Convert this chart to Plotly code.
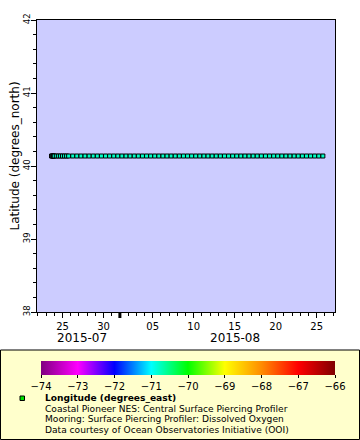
import plotly.graph_objects as go

# ---------------- data ----------------
time = [
    "2015-07-23 16:00", "2015-07-23 18:00", "2015-07-23 20:00", "2015-07-23 22:00",
    "2015-07-24 00:00",
    "2015-07-24 06:00", "2015-07-24 12:00", "2015-07-24 18:00", "2015-07-25 00:00",
    "2015-07-25 06:00", "2015-07-25 12:00", "2015-07-25 18:00",
    "2015-07-26 06:00", "2015-07-26 18:00", "2015-07-27 06:00", "2015-07-27 18:00",
    "2015-07-28 06:00", "2015-07-28 18:00", "2015-07-29 06:00", "2015-07-29 18:00",
    "2015-07-30 06:00", "2015-07-30 18:00", "2015-07-31 06:00", "2015-07-31 18:00",
    "2015-08-01 06:00", "2015-08-01 18:00", "2015-08-02 06:00", "2015-08-02 18:00",
    "2015-08-03 06:00", "2015-08-03 18:00", "2015-08-04 06:00", "2015-08-04 18:00",
    "2015-08-05 06:00", "2015-08-05 18:00", "2015-08-06 06:00", "2015-08-06 18:00",
    "2015-08-07 06:00", "2015-08-07 18:00", "2015-08-08 06:00", "2015-08-08 18:00",
    "2015-08-09 06:00", "2015-08-09 18:00", "2015-08-10 06:00", "2015-08-10 18:00",
    "2015-08-11 06:00", "2015-08-11 18:00", "2015-08-12 06:00", "2015-08-12 18:00",
    "2015-08-13 06:00", "2015-08-13 18:00", "2015-08-14 06:00", "2015-08-14 18:00",
    "2015-08-15 06:00", "2015-08-15 18:00", "2015-08-16 06:00", "2015-08-16 18:00",
    "2015-08-17 06:00", "2015-08-17 18:00", "2015-08-18 06:00", "2015-08-18 18:00",
    "2015-08-19 06:00", "2015-08-19 18:00", "2015-08-20 06:00", "2015-08-20 18:00",
    "2015-08-21 06:00", "2015-08-21 18:00", "2015-08-22 06:00", "2015-08-22 18:00",
    "2015-08-23 06:00", "2015-08-23 18:00", "2015-08-24 06:00", "2015-08-24 18:00",
    "2015-08-25 06:00", "2015-08-25 18:00",
]

latitude = [
    40.137, 40.137, 40.137, 40.137, 40.137, 40.137, 40.137, 40.137, 40.137, 40.137,
    40.137, 40.137, 40.137, 40.137, 40.137, 40.137, 40.137, 40.137, 40.137, 40.137,
    40.137, 40.137, 40.137, 40.137, 40.137, 40.137, 40.137, 40.137, 40.137, 40.137,
    40.137, 40.137, 40.137, 40.137, 40.137, 40.137, 40.137, 40.137, 40.137, 40.137,
    40.137, 40.137, 40.137, 40.137, 40.137, 40.137, 40.137, 40.137, 40.137, 40.137,
    40.137, 40.137, 40.137, 40.137, 40.137, 40.137, 40.137, 40.137, 40.137, 40.137,
    40.137, 40.137, 40.137, 40.137, 40.137, 40.137, 40.137, 40.137, 40.137, 40.137,
    40.137, 40.137, 40.137, 40.137,
]

longitude = [
    -70.78, -70.78, -70.78, -70.78, -70.78, -70.78, -70.78, -70.78, -70.78, -70.78,
    -70.78, -70.78, -70.78, -70.78, -70.78, -70.78, -70.78, -70.78, -70.78, -70.78,
    -70.78, -70.78, -70.78, -70.78, -70.78, -70.78, -70.78, -70.78, -70.78, -70.78,
    -70.78, -70.78, -70.78, -70.78, -70.78, -70.78, -70.78, -70.78, -70.78, -70.78,
    -70.78, -70.78, -70.78, -70.78, -70.78, -70.78, -70.78, -70.78, -70.78, -70.78,
    -70.78, -70.78, -70.78, -70.78, -70.78, -70.78, -70.78, -70.78, -70.78, -70.78,
    -70.78, -70.78, -70.78, -70.78, -70.78, -70.78, -70.78, -70.78, -70.78, -70.78,
    -70.78, -70.78, -70.78, -70.78,
]

x_tickvals = ["2015-07-25", "2015-07-30", "2015-08-05", "2015-08-10",
              "2015-08-15", "2015-08-20", "2015-08-25"]
x_ticktext = ["25", "30", "05", "10", "15", "20", "25"]
month_labels = ["2015-07", "2015-08"]
month_label_pos = ["2015-07-27 10:00", "2015-08-15 01:00"]
y_tickvals = [38, 39, 40, 41, 42]
cbar_tickvals = [-74, -73, -72, -71, -70, -69, -68, -67, -66]
y_title = "Latitude (degrees_north)"

legend_lines = [
    "<b>Longitude (degrees_east)</b>",
    "Coastal Pioneer NES: Central Surface Piercing Profiler",
    "Mooring: Surface Piercing Profiler: Dissolved Oxygen",
    "Data courtesy of Ocean Observatories Initiative (OOI)",
]

rainbow = [
    [0.000, "rgb(128,0,128)"],
    [0.125, "rgb(255,0,255)"],
    [0.250, "rgb(0,0,255)"],
    [0.375, "rgb(0,255,255)"],
    [0.500, "rgb(0,255,0)"],
    [0.625, "rgb(255,255,0)"],
    [0.750, "rgb(255,140,0)"],
    [0.875, "rgb(255,0,0)"],
    [1.000, "rgb(128,0,0)"],
]

# ---------------- layout geometry ----------------
W, H = 360, 440
L, R, T, B = 37, 335, 20, 312
FONT = "DejaVu Sans"


def px(xp):
    return (xp - L) / (R - L)


def py(yp):
    return (B - yp) / (B - T)


fig = go.Figure()
fig.add_trace(go.Scatter(
    x=time, y=latitude, mode="markers",
    marker=dict(
        symbol="square", size=4, color=longitude,
        colorscale=rainbow, cmin=-74, cmax=-66,
        line=dict(color="black", width=1),
        colorbar=dict(
            orientation="h", x=px(188), xanchor="center",
            y=py(361), yanchor="top", xpad=0, ypad=0,
            len=294, lenmode="pixels", thickness=14,
            outlinewidth=0, ticks="outside", ticklen=3,
            tickcolor="black", tickvals=cbar_tickvals,
            tickfont=dict(family=FONT, size=10, color="black"),
        ),
    ),
    showlegend=False, hoverinfo="skip",
))

fig.update_layout(
    width=W, height=H,
    margin=dict(l=L, r=W - R, t=T, b=H - B, autoexpand=False),
    paper_bgcolor="white", plot_bgcolor="#CCCCFF",
    font=dict(family=FONT, color="black"),
    xaxis=dict(
        range=["2015-07-21 21:25", "2015-08-27 05:30"],
        type="date", showgrid=False, zeroline=False,
        showline=True, linecolor="black", linewidth=1, mirror=True,
        ticks="outside", ticklen=5, tickcolor="black",
        tickvals=x_tickvals, ticktext=x_ticktext,
        tickfont=dict(family=FONT, size=10),
        minor=dict(ticks="outside", ticklen=3, tickcolor="black",
                   dtick=86400000, tick0="2015-07-22", showgrid=False),
    ),
    yaxis=dict(
        range=[38, 42], showgrid=False, zeroline=False,
        showline=True, linecolor="black", linewidth=1, mirror=True,
        ticks="outside", ticklen=5, tickcolor="black",
        tickvals=y_tickvals, tickangle=-90, ticklabelstandoff=-2,
        tickfont=dict(family=FONT, size=8.5),
        minor=dict(ticks="outside", ticklen=3, tickcolor="black",
                   dtick=0.2, showgrid=False),
    ),
)

# y-axis title
fig.add_annotation(x=px(14), xref="paper", y=py(156.5), yref="paper",
                   text=y_title, textangle=-90, showarrow=False,
                   xanchor="center", yanchor="middle",
                   font=dict(family=FONT, size=12))

# month boundary tick
fig.add_shape(type="line", xref="x", yref="paper",
              x0="2015-08-01", x1="2015-08-01", y0=0, y1=py(B + 6),
              line=dict(color="black", width=3))

for lab, pos in zip(month_labels, month_label_pos):
    fig.add_annotation(x=pos, xref="x", y=py(338), yref="paper",
                       text=lab, showarrow=False, xanchor="center",
                       yanchor="middle", font=dict(family=FONT, size=12))

# legend panel
fig.add_shape(type="rect", xref="paper", yref="paper", layer="below",
              x0=px(0.5), x1=px(359.5), y0=py(350), y1=py(439.5),
              fillcolor="#FFFFCC", line=dict(color="black", width=1))
fig.add_shape(type="rect", xref="paper", yref="paper",
              x0=px(20), x1=px(24.5), y0=py(396), y1=py(400.5),
              fillcolor="#00E000", line=dict(color="black", width=1))

line_y = [398, 408.6, 419.2, 429.8]
for txt, yy in zip(legend_lines, line_y):
    fig.add_annotation(x=px(43), xref="paper", y=py(yy), yref="paper",
                       text=txt, showarrow=False, xanchor="left",
                       yanchor="middle", font=dict(family=FONT, size=9.1))

fig.write_html("out.html", config={"displayModeBar": False},
               post_script="document.body.style.margin='0px';")
